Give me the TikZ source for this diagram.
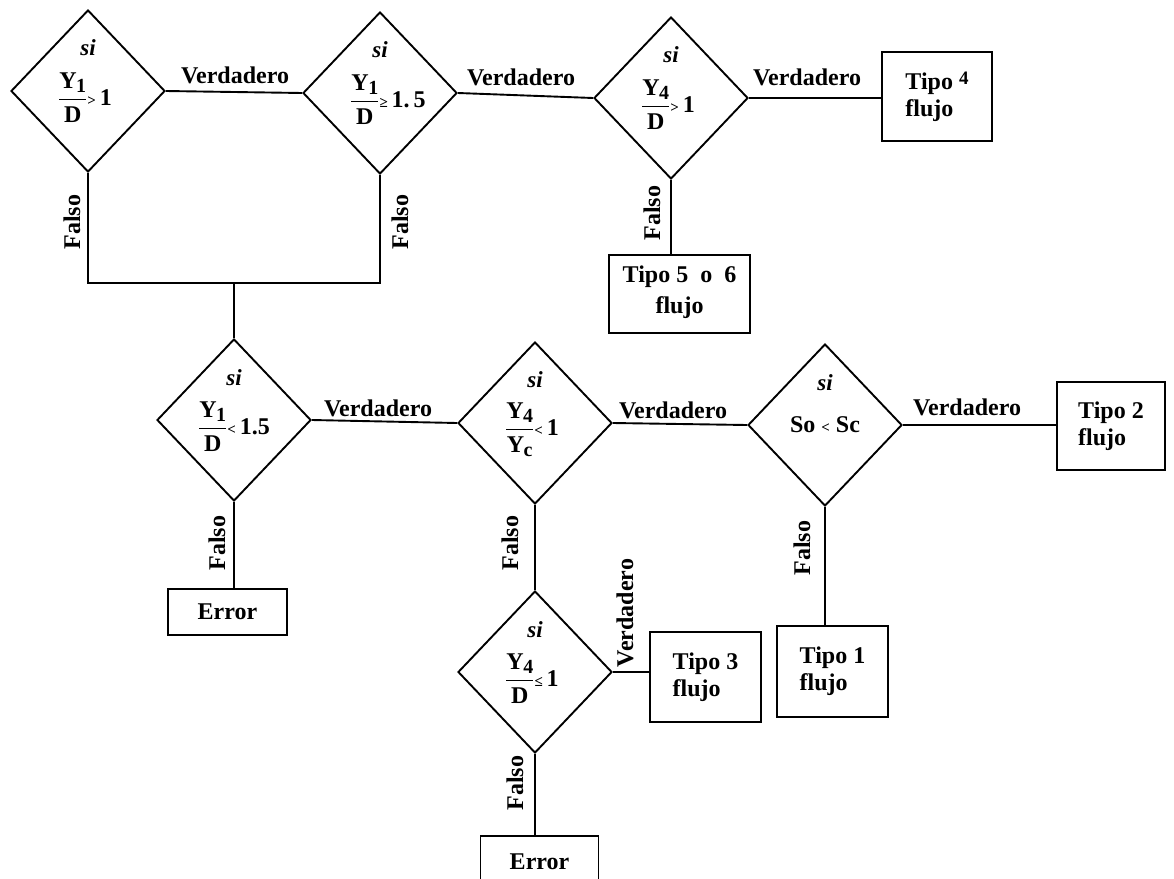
\documentclass[tikz,border=0pt]{standalone}
\usepackage{fontspec}
\setmainfont{Liberation Serif}
\usetikzlibrary{shapes.geometric}
\newcommand{\fr}[2]{$\displaystyle{\hbox{#1}\above 1.8pt\hbox{#2}}$}
\newcommand{\sbx}[1]{\kern-0.5pt\lower4pt\hbox{\fontsize{20}{20}\selectfont #1}}
\newcommand{\rl}[1]{\hbox{\fontsize{15}{15}\selectfont #1}}
\begin{document}
\begin{tikzpicture}[x=1pt,y=-1pt,
  every node/.style={font=\bfseries\fontsize{24}{27}\selectfont},
  dec/.style={draw, line width=1.9pt, shape=diamond, minimum width=154pt, minimum height=162pt, inner sep=0pt},
  box/.style={draw, line width=1.9pt, inner sep=0pt},
  conn/.style={line width=1.9pt},
  sitxt/.style={font=\bfseries\itshape\fontsize{23}{24}\selectfont, inner sep=0pt},
  cond/.style={inner sep=0pt},
  lab/.style={inner sep=0pt},
  vlab/.style={inner sep=0pt, rotate=90},
  btxt/.style={align=left, inner sep=0pt}]
\fill[white] (0,0) rectangle (1174,878);
\useasboundingbox (0,0) rectangle (1174,878);
\clip (0,0) rectangle (1174,878);

% decisions
\node[dec] (d1) at (88,91) {};
\node[dec] (d2) at (380,93) {};
\node[dec] (d3) at (671,98) {};
\node[dec] (d4) at (234,420) {};
\node[dec] (d5) at (535,423) {};
\node[dec] (d6) at (535,672) {};
\node[dec] (d7) at (825,425) {};

% "si" texts
\node[sitxt] (s1) at (88,48) {si};
\node[sitxt] (s2) at (380,50) {si};
\node[sitxt] (s3) at (671,55) {si};
\node[sitxt] (s4) at (234,378) {si};
\node[sitxt] (s5) at (535,380) {si};
\node[sitxt] (s6) at (535,630) {si};
\node[sitxt] (s7) at (825,383) {si};

% conditions
\node[cond] (c1) at (85,98) {\fr{Y\sbx{1}}{D}\rl{>}\,1};
\node[cond] (c2) at (388,100) {\fr{Y\sbx{1}}{D}\rl{≥}\,1.\,5};
\node[cond] (c3) at (668,105) {\fr{Y\sbx{4}}{D}\rl{>}\,1};
\node[cond] (c4) at (234,427) {\fr{Y\sbx{1}}{D}\rl{<}\,1.5};
\node[cond] (c5) at (532,430) {\fr{Y\sbx{4}}{Y\sbx{c}}\rl{<}\,1};
\node[cond] (c6) at (532,679) {\fr{Y\sbx{4}}{D}\rl{≤}\,1};
\node[cond] (c7) at (825,425) {So \rl{<}\ Sc};

% result boxes
\node[box, minimum width=110pt, minimum height=89pt] (t4) at (937,96.5) {};
\node[btxt] (t4t) at (937,97) {Tipo \raisebox{5pt}{\fontsize{19}{19}\selectfont 4}\\flujo};
\node[box, minimum width=141pt, minimum height=78pt] (t56) at (679.5,294) {};
\node[align=center, inner sep=0pt] (t56t) at (679.5,292) {Tipo 5\ \ o\ \ 6\\[4pt]flujo};
\node[box, minimum width=119pt, minimum height=46pt] (e1) at (227.5,612) {Error};
\node[box, minimum width=111pt, minimum height=90pt] (t3) at (705.5,677) {};
\node[btxt] (t3t) at (705.5,677) {Tipo 3\\flujo};
\node[box, minimum width=108pt, minimum height=88pt] (t2) at (1111,426) {};
\node[btxt] (t2t) at (1111,426) {Tipo 2\\flujo};
\node[box, minimum width=111pt, minimum height=91pt] (t1) at (832.5,671.5) {};
\node[btxt] (t1t) at (832.5,671.5) {Tipo 1\\flujo};
\node[box, minimum width=118pt, minimum height=52pt] (e2) at (539.5,862) {Error};

% connectors
\coordinate (j) at (234,283);
\draw[conn] (d1.east) -- (d2.west);
\draw[conn] (d2.east) -- (d3.west);
\draw[conn] (d3.east) -- (t4.west |- d3.east);
\draw[conn] (d3.south) -- (t56.north -| d3.south);
\draw[conn] (d1.south) -- (d1.south |- j) -- (d2.south |- j) -- (d2.south);
\draw[conn] (j) -- (d4.north);
\draw[conn] (d4.south) -- (e1.north -| d4.south);
\draw[conn] (d4.east) -- (d5.west);
\draw[conn] (d5.east) -- (d7.west);
\draw[conn] (d7.east) -- (t2.west |- d7.east);
\draw[conn] (d7.south) -- (t1.north -| d7.south);
\draw[conn] (d5.south) -- (d6.north);
\draw[conn] (d6.east) -- (t3.west |- d6.east);
\draw[conn] (d6.south) -- (e2.north -| d6.south);

% connector labels
\node[lab] (v1) at (235,75) {Verdadero};
\node[lab] (v2) at (521,77) {Verdadero};
\node[lab] (v3) at (807,77) {Verdadero};
\node[lab] (v4) at (378,408) {Verdadero};
\node[lab] (v5) at (673,410) {Verdadero};
\node[lab] (v6) at (967,407) {Verdadero};
\node[vlab] (v7) at (625,613) {Verdadero};
\node[vlab] (f1) at (72,222) {Falso};
\node[vlab] (f2) at (400,222) {Falso};
\node[vlab] (f3) at (652,213) {Falso};
\node[vlab] (f4) at (217,543) {Falso};
\node[vlab] (f5) at (510,543) {Falso};
\node[vlab] (f6) at (802,548) {Falso};
\node[vlab] (f7) at (515,783) {Falso};
\end{tikzpicture}
\end{document}
